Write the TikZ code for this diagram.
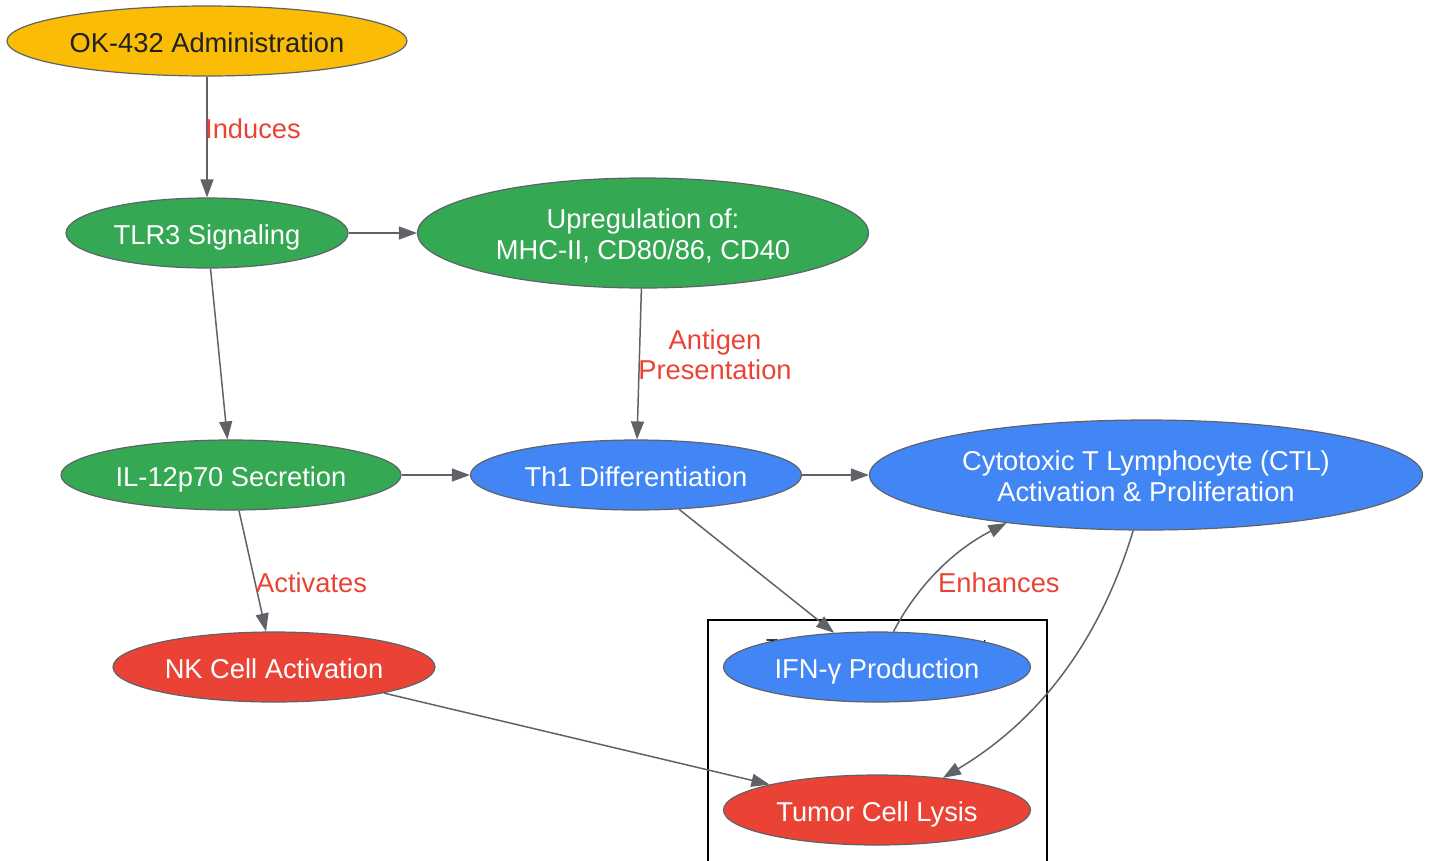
\documentclass[tikz,border=0pt]{standalone}
\usepackage{fontspec}
\setmainfont{Liberation Sans}
\usetikzlibrary{shapes.geometric,arrows.meta}
\definecolor{gyellow}{HTML}{FBBC05}
\definecolor{ggreen}{HTML}{34A853}
\definecolor{gblue}{HTML}{4285F4}
\definecolor{gred}{HTML}{EA4335}
\definecolor{darktext}{HTML}{202124}
\definecolor{edgegray}{HTML}{5F6368}
\newcommand{\topstrut}{\rule{0pt}{26.6pt}}
\newcommand{\botstrut}{\rule[-5pt]{0pt}{5pt}}
\begin{document}
\begin{tikzpicture}[x=1pt,y=-1pt,
  elnode/.style={ellipse, draw=edgegray, line width=1.2pt, inner sep=0pt, align=center,
    text=white, font=\fontsize{27.3}{31}\selectfont},
  oneline/.style={text height=25pt, text depth=2.4pt},
  greennode/.style={elnode, fill=ggreen},
  bluenode/.style={elnode, fill=gblue},
  rednode/.style={elnode, fill=gred},
  yellownode/.style={elnode, fill=gyellow, text=darktext},
  edge/.style={draw=edgegray, line width=1.5pt, -{Triangle[length=18pt,width=13pt]}},
  lbl/.style={text=gred, font=\fontsize{27.3}{30}\selectfont, align=center, inner sep=0pt},
  cluster/.style={draw=black, line width=1.5pt}]
\useasboundingbox (0,0) rectangle (1434,860);

% cluster
\draw[cluster] (708,620) rectangle (1047,880);
\node[font=\fontsize{20}{24}\selectfont, text=black] (clabel) at (877,646) {Tumor Microenvironment};

% nodes
\node[yellownode, oneline, minimum width=400pt, minimum height=70pt] (ok) at (207,41) {OK-432 Administration};
\node[greennode, oneline, minimum width=282pt, minimum height=70pt] (tlr3) at (207,233) {TLR3 Signaling};
\node[greennode, minimum width=451pt, minimum height=110pt] (up) at (643,233) {\topstrut Upregulation of:\\MHC-II, CD80/86, CD40\botstrut};
\node[greennode, oneline, minimum width=340pt, minimum height=70pt] (il12) at (231,475) {IL-12p70 Secretion};
\node[bluenode, oneline, minimum width=331pt, minimum height=70pt] (th1) at (636,475) {Th1 Differentiation};
\node[bluenode, minimum width=553pt, minimum height=110pt] (ctl) at (1146,475) {\topstrut Cytotoxic T Lymphocyte (CTL)\\Activation \& Proliferation\botstrut};
\node[rednode, oneline, minimum width=322pt, minimum height=70pt] (nk) at (274,667) {NK Cell Activation};
\node[bluenode, oneline, minimum width=307pt, minimum height=70pt] (ifn) at (877,667) {IFN-γ Production};
\node[rednode, oneline, minimum width=307pt, minimum height=70pt] (tumor) at (877,810) {Tumor Cell Lysis};

% edges
\draw[edge] (ok) -- (tlr3);
\draw[edge] (tlr3) -- (up);
\draw[edge] (tlr3) -- (il12);
\draw[edge] (up) -- (th1);
\draw[edge] (il12) -- (th1);
\draw[edge] (th1) -- (ctl);
\draw[edge] (il12) -- (nk);
\draw[edge] (th1) -- (ifn);
\draw[edge] (nk) -- (tumor);
\draw[edge] (ifn.65) .. controls (915,590) and (950,552) .. (ctl.199);
\draw[edge] (ctl.257) .. controls (1100,640) and (1040,720) .. (tumor.26);

% edge labels
\node[lbl, anchor=west] (linduces) at (205,129) {Induces};
\node[lbl] (lantigen) at (715,355) {Antigen\\Presentation};
\node[lbl, anchor=west] (lactivates) at (256,583) {Activates};
\node[lbl, anchor=west] (lenhances) at (938,583) {Enhances};
\end{tikzpicture}
\end{document}
